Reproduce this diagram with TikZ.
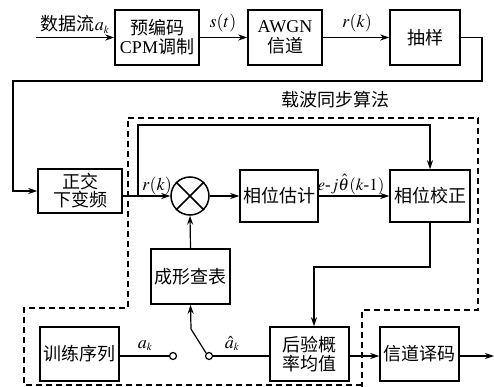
\documentclass[tikz,border=0pt]{standalone}
\usepackage{mathptmx}
\usepackage{fontspec}
\setmainfont{Liberation Serif}
\newfontfamily\cjk{Noto Sans CJK SC}
\usetikzlibrary{arrows.meta,calc}
\begin{document}
\begin{tikzpicture}[x=1pt,y=-1pt,
  font=\fontsize{18}{20}\selectfont,
  line width=1.2pt,
  >={Stealth[length=9pt,width=6pt]},
  blk/.style={draw,line width=1.5pt,align=center,inner sep=0pt},
  lbl/.style={inner sep=0pt},
  dsh/.style={draw,line width=1.4pt,dash pattern=on 6pt off 4pt},
  term/.style={circle,draw,line width=1.2pt,fill=white,inner sep=0pt,minimum size=7pt}]
\useasboundingbox (0,0) rectangle (494,387);
% top row
\node[blk,minimum width=84pt,minimum height=55pt] (pre) at (157,37.5) {{\cjk 预编码}\\[-1pt]CPM{\cjk 调制}};
\node[blk,minimum width=74pt,minimum height=55pt] (awgn) at (285,37.5) {AWGN\\[0pt]{\cjk 信道}};
\node[blk,minimum width=70pt,minimum height=55pt] (samp) at (425,37.5) {\cjk 抽样};
% middle row
\node[blk,minimum width=84pt,minimum height=44pt] (qdc) at (80,191) {{\cjk 正交}\\[-2pt]{\cjk 下变频}};
\node[circle,draw,line width=1.5pt,minimum size=38pt,inner sep=0pt] (mul) at (190,196) {};
\draw[line width=1.5pt] (mul.north west) -- (mul.south east) (mul.north east) -- (mul.south west);
\node[blk,minimum width=78pt,minimum height=52pt] (pe) at (279,196) {\cjk 相位估计};
\node[blk,minimum width=80pt,minimum height=52pt] (pc) at (430,196) {\cjk 相位校正};
\node[blk,minimum width=79pt,minimum height=55pt] (lut) at (190.5,276.5) {\cjk 成形查表};
% bottom row
\node[blk,minimum width=79pt,minimum height=54pt] (train) at (79.5,354) {\cjk 训练序列};
\node[blk,minimum width=79pt,minimum height=54pt] (post) at (309.5,354) {{\cjk 后验概}\\[-1pt]{\cjk 率均值}};
\node[blk,minimum width=79pt,minimum height=54pt] (dec) at (419.5,354) {\cjk 信道译码};
\node[term] (c1) at (173,356) {};
\node[term] (c2) at (209,356) {};
% coordinates
\coordinate (in) at (36,37.5);
\coordinate (s1) at (482,37.5);
\coordinate (s2) at (482,81);
\coordinate (s3) at (13,81);
\coordinate (br) at (138,196);
\coordinate (bt) at (138,125);
\coordinate (pt) at (430,125);
\coordinate (d1) at (430,267);
\coordinate (d2) at (314,267);
\coordinate (sw) at (191,329);
\coordinate (out) at (494,356);
% connectors
\draw[->] (in) -- (pre.west);
\draw[->] (pre.east) -- (awgn.west);
\draw[->] (awgn.east) -- (samp.west);
\draw[->] (samp.east) -- (s1) -- (s2) -- (s3) -- (s3 |- qdc.west) -- (qdc.west);
\draw (qdc.east |- br) -- (br);
\draw[->] (br) -- (mul.west);
\draw[->] (br) -- (bt) -- (pt) -- (pc.north);
\draw[->] (mul.east) -- (pe.west);
\draw[->] (pe.east) -- (pc.west);
\draw[->] (lut.north) -- (mul.south);
\draw[->] (pc.south) -- (d1) -- (d2) -- (d2 |- post.north);
\draw (train.east |- c1) -- (c1.west);
\draw (c2.east) -- (post.west |- c2);
\draw[->] (c2.north west) -- (sw) -- (lut.south);
\draw[->] (post.east |- c2) -- (dec.west |- c2);
\draw[->] (dec.east |- c2) -- (out);
% labels
\node[lbl,anchor=base] (l1) at (75,31) {{\cjk 数据流}$a_{\scriptscriptstyle k}$};
\node[lbl,anchor=base] (l2) at (223,28) {$s(t)$};
\node[lbl,anchor=base] (l3) at (357,28) {$r(k)$};
\node[lbl,anchor=base] (l4) at (157,190) {$r(k)$};
\node[lbl,anchor=base,font=\fontsize{17}{19}\selectfont] (l5) at (351,190) {$e$-$j\hat{\theta}(k$-$1)$};
\node[lbl,anchor=base] (l6) at (145,348) {$a_{\scriptscriptstyle k}$};
\node[lbl,anchor=base] (l7) at (232,348) {$\hat{a}_{\scriptscriptstyle k}$};
\node[lbl] (l8) at (335,100) {\cjk 载波同步算法};
% dashed region
\draw[dsh] (128,118) -- (478,118) -- (478,310) -- (362,310) -- (362,387)
  (362,385) -- (24,385) -- (24,308) -- (128,308) -- (128,118);
\end{tikzpicture}
\end{document}
